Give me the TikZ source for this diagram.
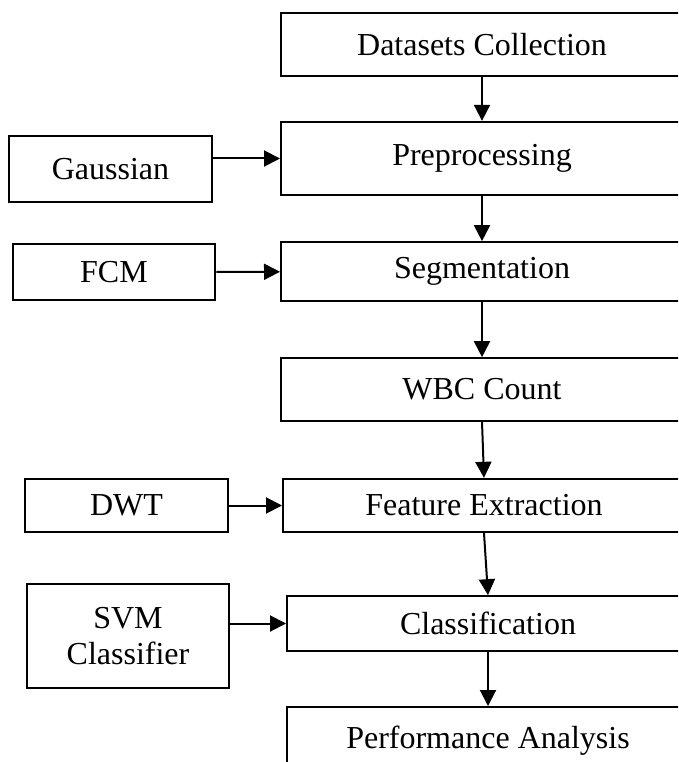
\documentclass[tikz,border=0pt]{standalone}
\usepackage{fontspec}
\setmainfont{Liberation Serif}
\usetikzlibrary{arrows.meta}

\begin{document}
\begin{tikzpicture}[x=0.75pt, y=-0.75pt,
    every node/.style={font=\fontsize{24}{27}\selectfont},
    stage/.style={draw, line width=1.5pt, inner sep=0pt, minimum width=301.5pt},
    method/.style={draw, line width=1.5pt, inner sep=0pt, minimum width=152pt, align=center},
    flow/.style={line width=1.5pt, -{Triangle[length=12pt, width=12pt]}}]
    \useasboundingbox (0,0) rectangle (678,762);
    \clip (0,0) rectangle (678,762);
    % main pipeline
    \node[stage, minimum height=47pt] (data) at (482,44.5) {Datasets Collection};
    \node[stage, minimum height=55pt] (prep) at (482,158.5) {Preprocessing};
    \node[stage, minimum height=44pt] (seg) at (482,271.5) {Segmentation};
    \node[stage, minimum height=47pt] (wbc) at (482,389.5) {WBC Count};
    \node[stage, minimum height=40pt] (feat) at (484,505.5) {Feature Extraction};
    \node[stage, minimum height=41pt] (cls) at (488,623.5) {Classification};
    \node[stage, minimum height=51pt] (perf) at (488,741) {Performance Analysis};
    % methods on the left
    \node[method, minimum height=49.5pt] (gauss) at (110.5,169) {Gaussian};
    \node[method, minimum height=42pt] (fcm) at (114,272) {FCM};
    \node[method, minimum height=40pt] (dwt) at (126.5,505.5) {DWT};
    \node[method, minimum height=78pt] (svm) at (128,636) {SVM\\Classifier};
    % connectors
    \draw[flow] (data) -- (prep);
    \draw[flow] (prep) -- (seg);
    \draw[flow] (seg) -- (wbc);
    \draw[flow] (wbc.south) -- (feat.north);
    \draw[flow] (feat.south) -- (cls.north);
    \draw[flow] (cls) -- (perf);
    \draw[flow] (gauss.east |- prep.west) -- (prep.west);
    \draw[flow] (fcm) -- (seg);
    \draw[flow] (dwt) -- (feat);
    \draw[flow] (svm.east |- cls.west) -- (cls.west);
  \end{tikzpicture}
\end{document}
